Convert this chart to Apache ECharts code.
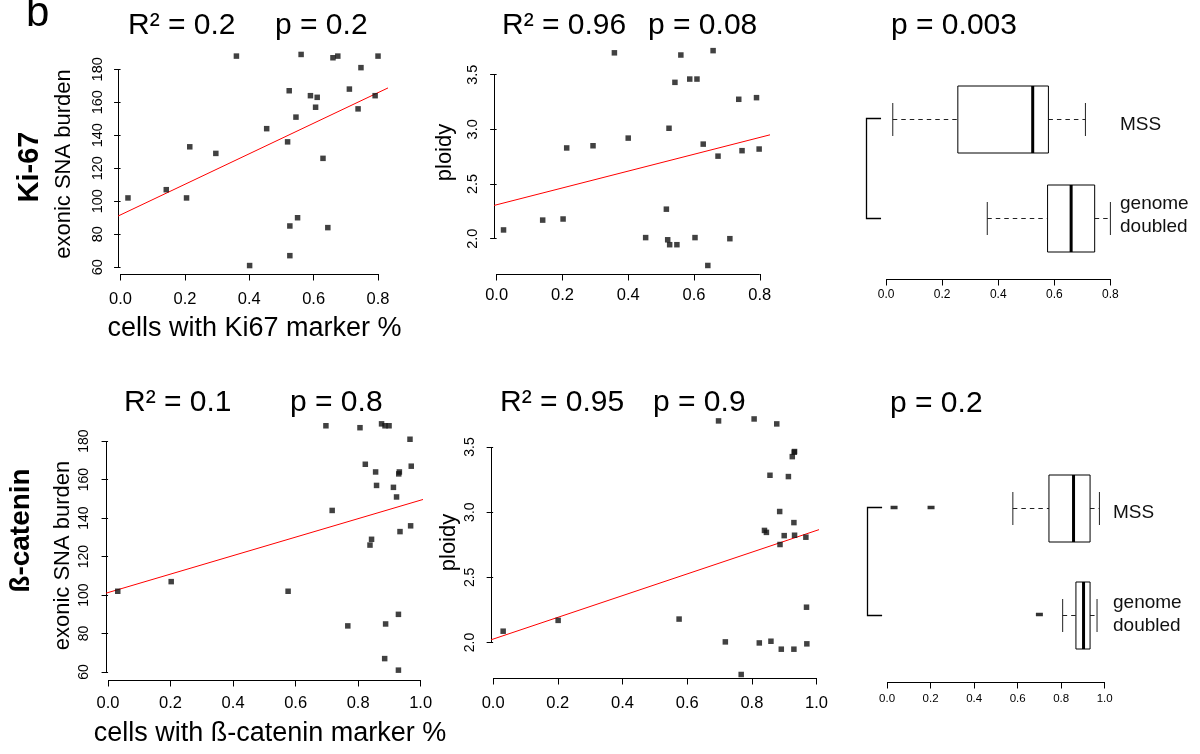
<!DOCTYPE html>
<html>
<head>
<meta charset="utf-8">
<script src="https://cdn.jsdelivr.net/npm/echarts@6/dist/echarts.min.js"></script>
<style>
  html, body { margin: 0; padding: 0; background: #fff; }
  #main { width: 1200px; height: 754px; }
</style>
</head>
<body>
<div id="main"></div>
<script>
var FONT = '"Liberation Sans", Arial, Helvetica, sans-serif';

// ---- Ki-67 row: [cells with Ki67 marker, value]
var ki67Burden = [
  [0.023, 102], [0.142, 107], [0.205, 102], [0.215, 133], [0.296, 129], [0.360, 188],
  [0.401, 61], [0.454, 144], [0.519, 136], [0.524, 167], [0.526, 85], [0.526, 67],
  [0.545, 151], [0.550, 90], [0.561, 189], [0.590, 164], [0.606, 157], [0.611, 163],
  [0.629, 126], [0.644, 84], [0.660, 187], [0.675, 188], [0.711, 168], [0.738, 156],
  [0.747, 181], [0.791, 164], [0.800, 188]
];
var ki67Ploidy = [
  [0.021, 2.08], [0.140, 2.17], [0.202, 2.18], [0.213, 2.83], [0.293, 2.85], [0.358, 3.70],
  [0.400, 2.92], [0.453, 2.01], [0.516, 2.27], [0.520, 1.99], [0.524, 3.01], [0.526, 1.945],
  [0.542, 3.43], [0.548, 1.945], [0.560, 3.68], [0.587, 3.46], [0.603, 2.01], [0.609, 3.46],
  [0.628, 2.865], [0.642, 1.755], [0.658, 3.72], [0.673, 2.755], [0.709, 2.00], [0.736, 3.275],
  [0.746, 2.805], [0.790, 3.29], [0.798, 2.82]
];
var ki67BurdenFit = [[-0.008, 91], [0.831, 168.7]];
var ki67PloidyFit = [[-0.008, 2.304], [0.831, 2.95]];
// boxplots: [min, q1, median, q3, max]
var groups = ['MSS', 'genome doubled'];
var ki67Box = [[0.024, 0.256, 0.523, 0.579, 0.711], [0.361, 0.576, 0.660, 0.744, 0.800]];

// ---- beta-catenin row
var catBurden = [
  [0.031, 102], [0.202, 107], [0.576, 102], [0.697, 188], [0.717, 144], [0.767, 84],
  [0.806, 187], [0.823, 168], [0.838, 126], [0.843, 129], [0.856, 164], [0.859, 157],
  [0.875, 189], [0.885, 67], [0.886, 188], [0.888, 85], [0.899, 188], [0.913, 156],
  [0.923, 151], [0.929, 61], [0.929, 90], [0.930, 163], [0.932, 164], [0.934, 133],
  [0.966, 181], [0.968, 136], [0.970, 167]
];
var catPloidy = [
  [0.031, 2.087], [0.201, 2.17], [0.575, 2.18], [0.697, 3.70], [0.718, 2.005], [0.767, 1.755],
  [0.807, 3.715], [0.823, 1.997], [0.839, 2.86], [0.845, 2.845], [0.856, 3.283], [0.859, 2.01],
  [0.877, 3.677], [0.886, 3.005], [0.887, 2.752], [0.891, 1.949], [0.900, 2.82], [0.913, 3.273],
  [0.925, 3.426], [0.930, 2.92], [0.930, 1.949], [0.931, 3.46], [0.932, 3.465], [0.932, 2.823],
  [0.967, 2.808], [0.969, 2.271], [0.970, 1.99]
];
var catBurdenFit = [[-0.0066, 101], [1.0076, 149.7]];
var catPloidyFit = [[-0.0066, 2.021], [1.0076, 2.866]];
var catBox = [[0.578, 0.744, 0.857, 0.933, 0.976], [0.807, 0.868, 0.903, 0.933, 0.965]];
var catOutliers = [[0.032, 0], [0.202, 0], [0.700, 1]];

// ---- ticks
var burdenTicks = [60, 80, 100, 120, 140, 160, 180];
var ploidyTicks = [2.0, 2.5, 3.0, 3.5];
var ki67Ticks = [0, 0.2, 0.4, 0.6, 0.8];
var catTicks = [0, 0.2, 0.4, 0.6, 0.8, 1.0];

var titleTexts = ['R² = 0.2', 'p = 0.2', 'R² = 0.96', 'p = 0.08', 'p = 0.003',
                  'R² = 0.1', 'p = 0.8', 'R² = 0.95', 'p = 0.9', 'p = 0.2'];

var chart = echarts.init(document.getElementById('main'), null, { renderer: 'canvas' });

function fmt1(v) { return Number(v).toFixed(1); }
function fmt0(v) { return String(v); }

function valueAxis(grid, min, max, ticks, fmt, o) {
  return {
    type: 'value', gridIndex: grid, min: min, max: max,
    offset: o.offset || 0,
    axisLine: { show: false },
    splitLine: { show: false },
    axisTick: { show: true, customValues: ticks, length: 6.5, lineStyle: { color: '#000', width: 1 } },
    axisLabel: {
      show: true, customValues: ticks, formatter: fmt, rotate: o.rotate || 0,
      margin: o.margin, fontSize: o.size, color: '#000', fontFamily: FONT
    }
  };
}

// group names sit on the right; MSS a little below its box centre, as in the source
function groupAxis(grid, margin, shiftDown, shiftUp) {
  return {
    type: 'category', gridIndex: grid, data: groups, inverse: true, position: 'right',
    axisLine: { show: false }, axisTick: { show: false }, splitLine: { show: false },
    axisLabel: {
      margin: margin, color: '#111', fontFamily: FONT, fontSize: 19,
      formatter: function (v) {
        if (v.indexOf(' ') < 0) return '{m|' + v + '}';
        return v.split(' ').map(function (w) { return '{g|' + w + '}'; }).join('\n');
      },
      rich: {
        m: { fontSize: 19, lineHeight: 23, fontFamily: FONT, color: '#111', padding: [shiftDown * 2, 0, 0, 0] },
        g: { fontSize: 19, lineHeight: 23, fontFamily: FONT, color: '#111', padding: [0, 0, shiftUp, 0] }
      }
    }
  };
}

function crisp(v) { return Math.round(v) + 0.5; }

// R-style axis lines: only from first to last tick
function frame(grid, xTicks, yTicks, xOffset) {
  return {
    type: 'custom', xAxisIndex: grid, yAxisIndex: grid, silent: true, clip: false,
    data: [[xTicks[0], yTicks ? yTicks[0] : 0]],
    renderItem: function (params, api) {
      var cs = params.coordSys;
      var yv = yTicks ? yTicks[0] : 0;
      var yb = crisp(cs.y + cs.height + (xOffset || 0) - 0.5);
      var xa = api.coord([xTicks[0], yv])[0];
      var xb = api.coord([xTicks[xTicks.length - 1], yv])[0];
      var st = { stroke: '#000', lineWidth: 1 };
      var kids = [{ type: 'line', shape: { x1: xa, y1: yb, x2: xb, y2: yb }, style: st }];
      if (yTicks) {
        var xl = crisp(cs.x - 0.5);
        var ya = api.coord([xTicks[0], yTicks[0]])[1];
        var yz = api.coord([xTicks[0], yTicks[yTicks.length - 1]])[1];
        kids.push({ type: 'line', shape: { x1: xl, y1: ya, x2: xl, y2: yz }, style: st });
      }
      return { type: 'group', children: kids };
    }
  };
}

function scatter(grid, data) {
  return {
    type: 'scatter', xAxisIndex: grid, yAxisIndex: grid, data: data, silent: true, clip: false,
    symbol: 'rect', symbolSize: 5.5, itemStyle: { color: '#111' }, z: 3
  };
}

function fitLine(grid, data) {
  return {
    type: 'line', xAxisIndex: grid, yAxisIndex: grid, data: data, silent: true,
    symbol: 'none', lineStyle: { color: '#f00', width: 1 }, z: 2
  };
}

function boxes(grid, stats) {
  return {
    type: 'custom', xAxisIndex: grid, yAxisIndex: grid, silent: true, clip: false,
    encode: { x: 3, y: 0 },
    data: stats.map(function (s, i) { return [i].concat(s); }),
    renderItem: function (params, api) {
      var cat = api.value(0);
      var px = function (v) { return api.coord([v, cat])[0]; };
      var yc = Math.round(api.coord([0, cat])[1]) + 0.5;
      var h = 67, cap = 16.5;
      var lo = px(api.value(1)), q1 = px(api.value(2)), md = px(api.value(3)),
          q3 = px(api.value(4)), hi = px(api.value(5));
      var dash = { stroke: '#222', lineWidth: 1, lineDash: [4.5, 4] };
      var solid = { stroke: '#222', lineWidth: 1 };
      return {
        type: 'group', children: [
          { type: 'line', shape: { x1: lo, y1: yc, x2: q1, y2: yc }, style: dash },
          { type: 'line', shape: { x1: q3, y1: yc, x2: hi, y2: yc }, style: dash },
          { type: 'line', shape: { x1: lo, y1: yc - cap, x2: lo, y2: yc + cap }, style: solid },
          { type: 'line', shape: { x1: hi, y1: yc - cap, x2: hi, y2: yc + cap }, style: solid },
          { type: 'rect', shape: { x: q1, y: yc - h / 2, width: q3 - q1, height: h },
            style: { fill: '#fff', stroke: '#000', lineWidth: 1 } },
          { type: 'line', shape: { x1: md, y1: yc - h / 2, x2: md, y2: yc + h / 2 },
            style: { stroke: '#000', lineWidth: 3 } }
        ]
      };
    }
  };
}

// bracket joining the two groups, left of the axis start
function bracket(grid) {
  return {
    type: 'custom', xAxisIndex: grid, yAxisIndex: grid, silent: true, clip: false,
    data: [[0, 0]],
    renderItem: function (params, api) {
      var x0 = api.coord([0, 0])[0];
      var xa = Math.round(x0 - 20) + 0.5, xb = x0 - 5;
      var ya = Math.round(api.coord([0, 0])[1]) - 0.5;
      var yb = Math.round(api.coord([0, 1])[1]) + 0.5;
      return {
        type: 'polyline',
        shape: { points: [[xb, ya], [xa, ya], [xa, yb], [xb, yb]] },
        style: { stroke: '#000', lineWidth: 1.3, fill: null }
      };
    }
  };
}

function txt(str, x, y, size, o) {
  o = o || {};
  return {
    type: 'text', x: x, y: y, rotation: o.rot || 0, silent: true,
    style: {
      text: str, x: 0, y: 0, fill: '#000', fontSize: size, fontFamily: FONT,
      fontWeight: o.bold ? 'bold' : 'normal',
      align: o.align || 'left', verticalAlign: 'middle'
    }
  };
}

var R90 = Math.PI / 2;

var option = {
  animation: false,
  backgroundColor: '#fff',
  grid: [
    { left: 118, top: 46, width: 270, height: 228 },
    { left: 494, top: 42, width: 276, height: 232 },
    { left: 858, top: 69, width: 258, height: 199 },
    { left: 106, top: 414, width: 317, height: 266 },
    { left: 491, top: 408, width: 328, height: 270 },
    { left: 861, top: 454, width: 248, height: 214 }
  ],
  xAxis: [
    valueAxis(0, -0.008, 0.831, ki67Ticks, fmt1, { margin: 16.5, size: 16.5 }),
    valueAxis(1, -0.008, 0.831, ki67Ticks, fmt1, { margin: 12.5, size: 16.5 }),
    valueAxis(2, -0.1, 0.82, ki67Ticks, fmt1, { margin: 10, size: 12, offset: 11 }),
    valueAxis(3, -0.0066, 1.0076, catTicks, fmt1, { margin: 15, size: 16.5 }),
    valueAxis(4, -0.0066, 1.0076, catTicks, fmt1, { margin: 17, size: 16.5 }),
    valueAxis(5, -0.12, 1.02, catTicks, fmt1, { margin: 11, size: 11.5, offset: 14 })
  ],
  yAxis: [
    valueAxis(0, 55.88, 194.12, burdenTicks, fmt0, { margin: 13, size: 14.5, rotate: 90 }),
    valueAxis(1, 1.677, 3.799, ploidyTicks, fmt1, { margin: 14, size: 14.5, rotate: 90 }),
    groupAxis(2, 4, 6, 5),
    valueAxis(3, 55.88, 194.12, burdenTicks, fmt0, { margin: 15, size: 14, rotate: 90 }),
    valueAxis(4, 1.728, 3.799, ploidyTicks, fmt1, { margin: 14, size: 14, rotate: 90 }),
    groupAxis(5, 4, 5, 0)
  ],
  series: [
    frame(0, ki67Ticks, burdenTicks), fitLine(0, ki67BurdenFit), scatter(0, ki67Burden),
    frame(1, ki67Ticks, ploidyTicks), fitLine(1, ki67PloidyFit), scatter(1, ki67Ploidy),
    frame(2, ki67Ticks, null, 11), boxes(2, ki67Box), bracket(2),
    frame(3, catTicks, burdenTicks), fitLine(3, catBurdenFit), scatter(3, catBurden),
    frame(4, catTicks, ploidyTicks), fitLine(4, catPloidyFit), scatter(4, catPloidy),
    frame(5, catTicks, null, 14), boxes(5, catBox), bracket(5),
    {
      type: 'scatter', xAxisIndex: 5, yAxisIndex: 5, data: catOutliers, silent: true, clip: false,
      symbol: 'rect', symbolSize: [7, 3.5], itemStyle: { color: '#000' }, z: 4
    }
  ],
  graphic: [
    txt('b', 26, 14, 42),
    // titles
    txt(titleTexts[0], 128, 25.5, 30), txt(titleTexts[1], 275, 25.5, 30),
    txt(titleTexts[2], 502, 25.5, 30), txt(titleTexts[3], 648, 25.5, 30),
    txt(titleTexts[4], 891, 25.5, 30),
    txt(titleTexts[5], 124, 403, 30), txt(titleTexts[6], 290, 403, 30),
    txt(titleTexts[7], 500, 402.5, 30), txt(titleTexts[8], 653, 402.5, 30),
    txt(titleTexts[9], 890, 404, 30),
    // row labels
    txt('Ki-67', 29.5, 167, 29, { rot: R90, align: 'center', bold: true }),
    txt('ß-catenin', 21.5, 530.5, 28, { rot: R90, align: 'center', bold: true }),
    // axis names
    txt('exonic SNA burden', 64, 164, 22, { rot: R90, align: 'center' }),
    txt('exonic SNA burden', 63, 555.5, 22, { rot: R90, align: 'center' }),
    txt('ploidy', 445, 152.5, 22, { rot: R90, align: 'center' }),
    txt('ploidy', 448.5, 542.5, 22, { rot: R90, align: 'center' }),
    txt('cells with Ki67 marker %', 254.5, 329, 27, { align: 'center' }),
    txt('cells with ß-catenin marker %', 270, 734, 27, { align: 'center' })
  ]
};

chart.setOption(option);
window.addEventListener('resize', chart.resize);
</script>
</body>
</html>
